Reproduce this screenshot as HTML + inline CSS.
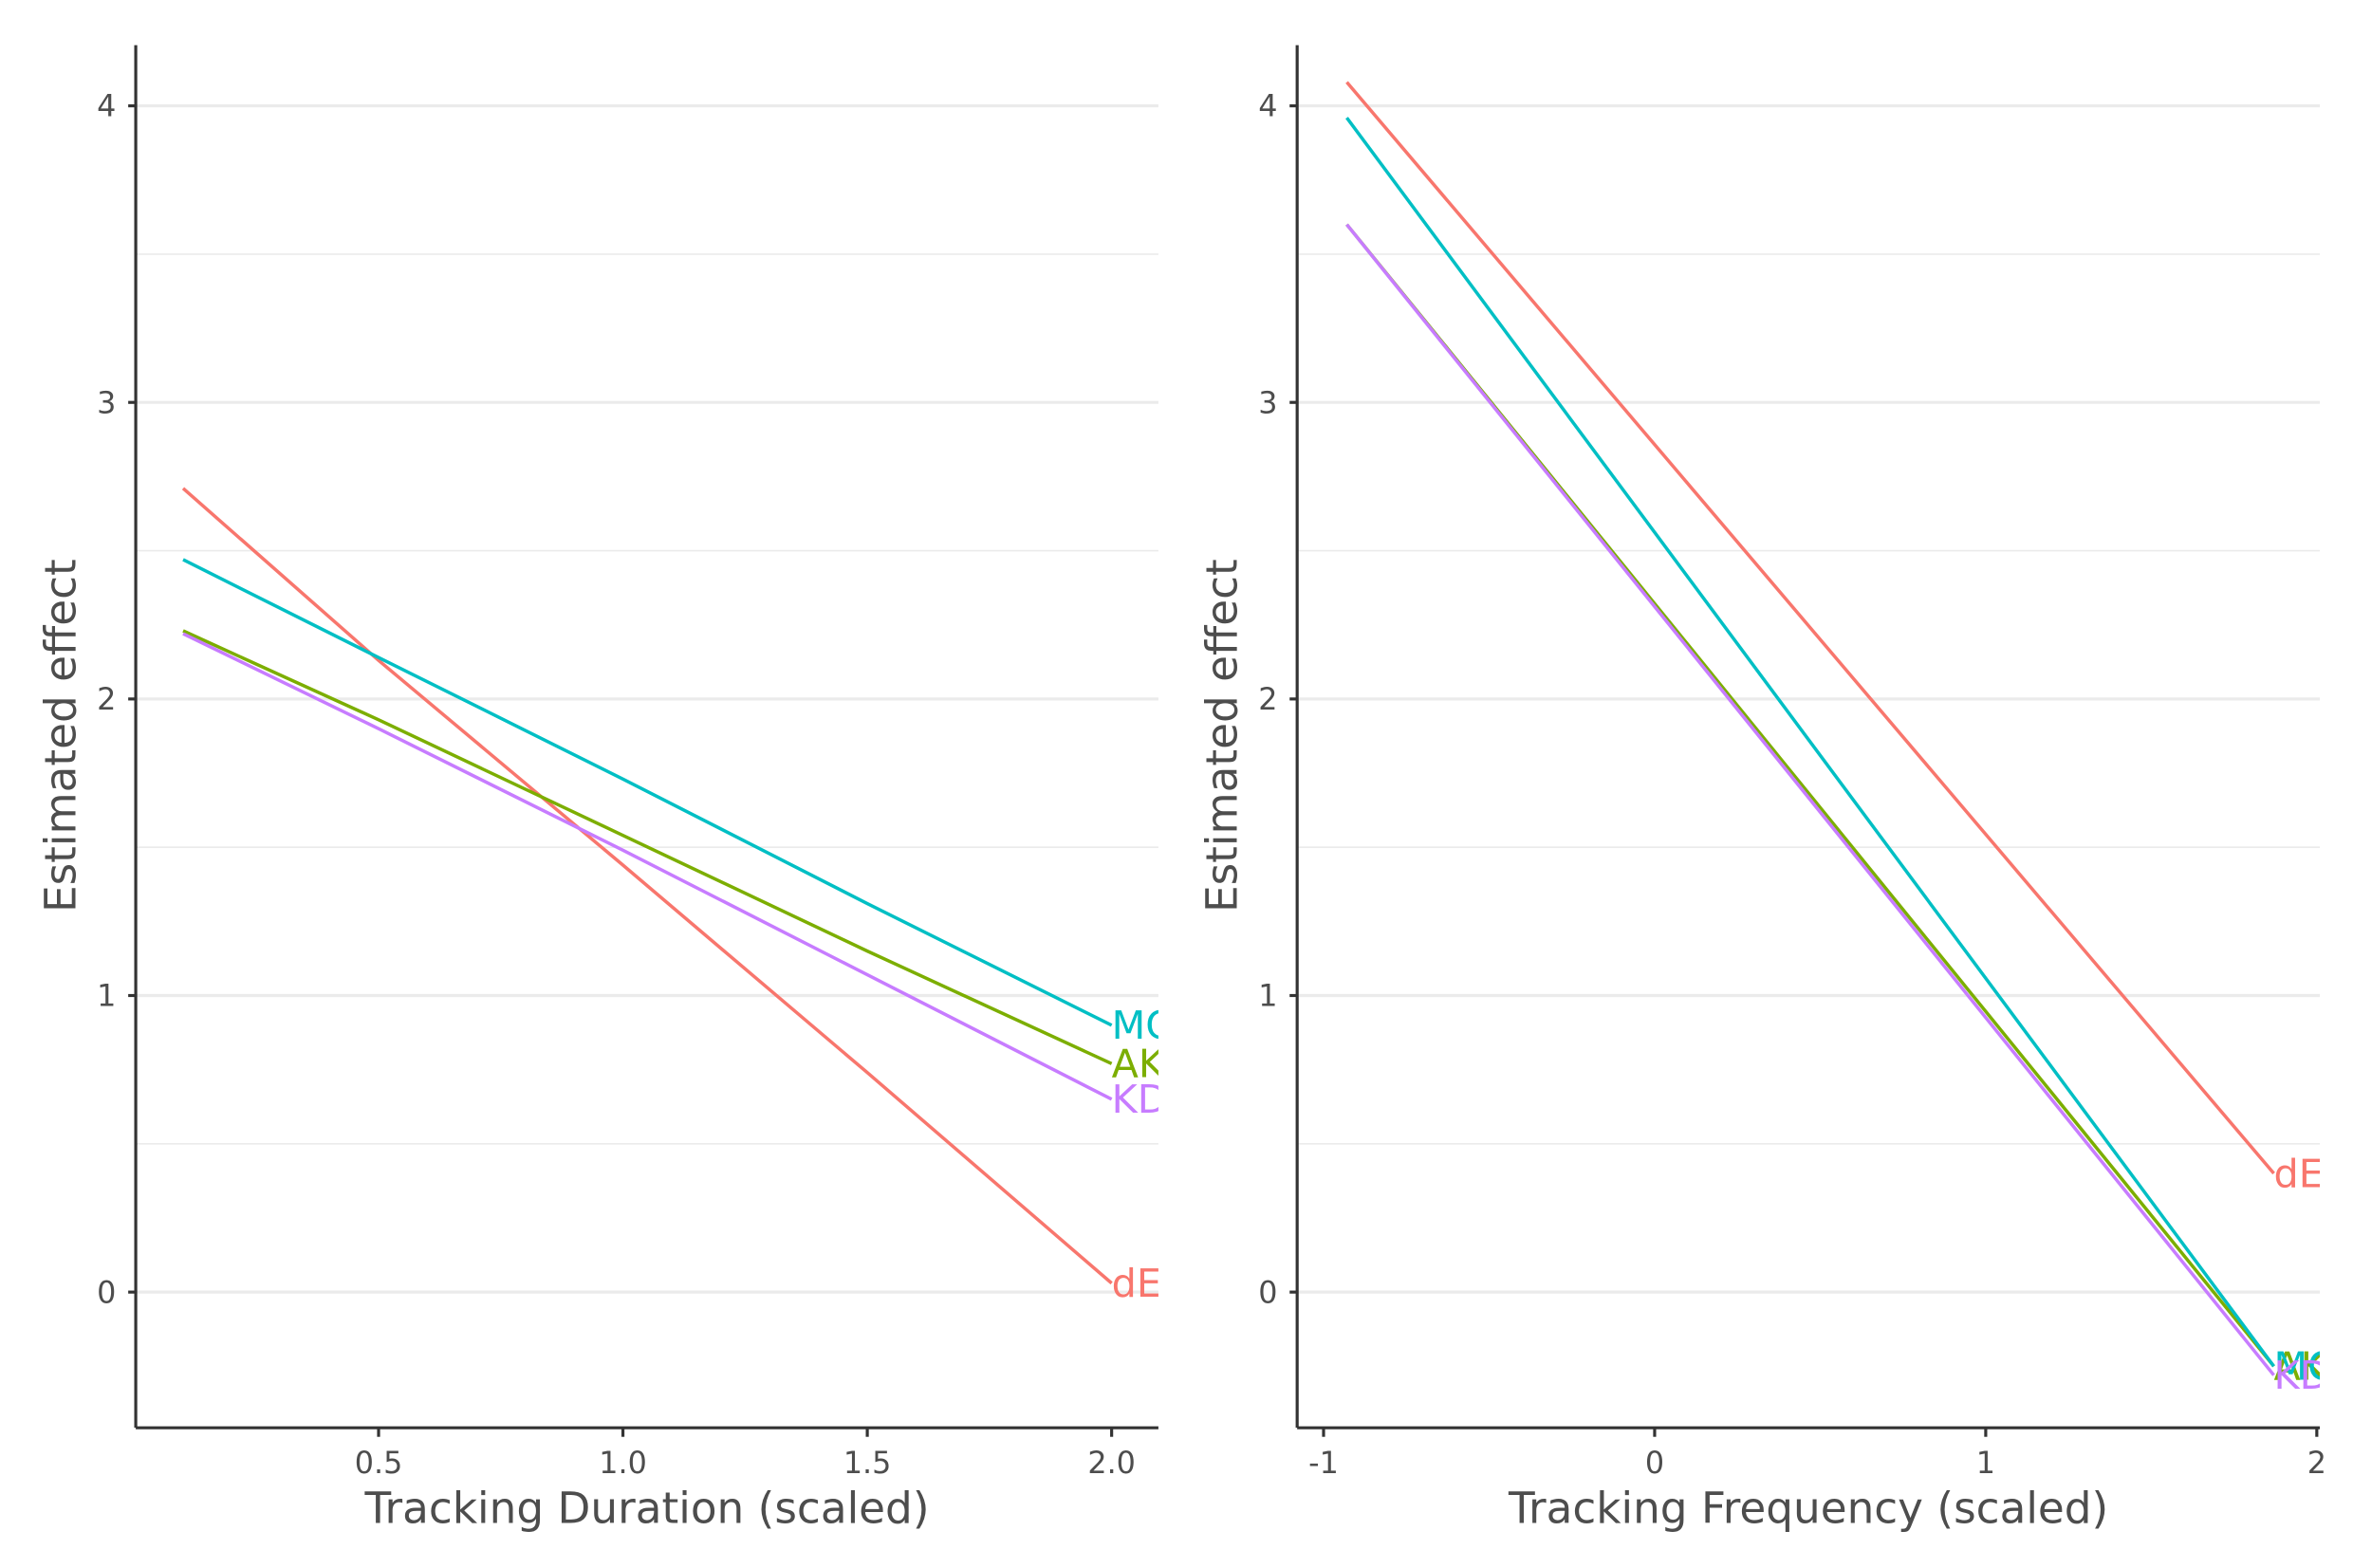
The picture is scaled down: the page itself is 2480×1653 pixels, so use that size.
<!DOCTYPE html>
<html><head><meta charset="utf-8"><style>
html,body{margin:0;padding:0;background:#fff}
svg{display:block;font-family:"DejaVu Sans","Liberation Sans",sans-serif}
</style></head><body>
<svg id="chart" width="2480" height="1653" viewBox="0 0 1560 1040" preserveAspectRatio="none" xmlns="http://www.w3.org/2000/svg">
<defs>
<clipPath id="clipL"><rect x="90" y="20" width="678" height="927"/></clipPath>
<clipPath id="clipR"><rect x="860" y="20" width="678" height="927"/></clipPath>
</defs>
<g id="root"></g>
</svg>
<script>
const seriesNames = ["dE","AK","MC","KD"];
const seriesColors = ["#F8766D","#7CAE00","#00BFC4","#C77CFF"];
const leftX = [0.1, 0.5, 1.0, 1.5, 2.0];
const leftDE = [2.71, 2.13, 1.44, 0.74, 0.03];
const leftAK = [2.23, 1.93, 1.54, 1.15, 0.77];
const leftMC = [2.47, 2.14, 1.73, 1.31, 0.90];
const leftKD = [2.22, 1.90, 1.49, 1.07, 0.65];
const rightX = [-0.93, 1.87];
const rightDE = [4.08, 0.40];
const rightAK = [3.60, -0.25];
const rightMC = [3.96, -0.25];
const rightKD = [3.60, -0.28];
const yTicks = [0, 1, 2, 3, 4];
const yMinor = [0.5, 1.5, 2.5, 3.5];
const leftXTicks = [0.5, 1.0, 1.5, 2.0];
const leftXLabels = ["0.5","1.0","1.5","2.0"];
const rightXTicks = [-1, 0, 1, 2];
const rightXLabels = ["-1","0","1","2"];

const NS = "http://www.w3.org/2000/svg";
const root = document.getElementById("root");
function mk(tag, attrs, parent, text){
  const e = document.createElementNS(NS, tag);
  for (const k in attrs) e.setAttribute(k, attrs[k]);
  if (text !== undefined) e.textContent = text;
  (parent||root).appendChild(e);
  return e;
}
const yScale = v => 857 - v * 196.7;
const panels = [
  {x0:90, x1:768, sx: v => 89 + v*324, xs:leftX, ys:[leftDE,leftAK,leftMC,leftKD], ticks:leftXTicks, labels:leftXLabels, title:"Tracking Duration (scaled)", clip:"clipL", name:"left-panel"},
  {x0:860, x1:1538, sx: v => 1097 + v*219.5, xs:rightX, ys:[rightDE,rightAK,rightMC,rightKD], ticks:rightXTicks, labels:rightXLabels, title:"Tracking Frequency (scaled)", clip:"clipR", name:"right-panel"}
];
panels.forEach(p => {
  const g = mk("g", {});
  
  
  yMinor.forEach(v => {
    const l = mk("line", {x1:p.x0, x2:p.x1, y1:yScale(v), y2:yScale(v), stroke:"#ebebeb", "stroke-width":1}, g);
    
    
  });
  yTicks.forEach(v => {
    const l = mk("line", {x1:p.x0, x2:p.x1, y1:yScale(v), y2:yScale(v), stroke:"#ebebeb", "stroke-width":2}, g);
    
    
    const t = mk("line", {x1:p.x0-5, x2:p.x0, y1:yScale(v), y2:yScale(v), stroke:"#333", "stroke-width":2}, g);
    
    
    const tl = mk("text", {x:p.x0-13, y:yScale(v)+7, "text-anchor":"end", "font-size":20, fill:"#4d4d4d"}, g, String(v));
    
    
  });
  const sg = mk("g", {"clip-path":"url(#"+p.clip+")"}, g);
  p.ys.forEach((ys, i) => {
    const pts = ys.map((v, j) => p.sx(p.xs[j]).toFixed(1)+","+yScale(v).toFixed(1)).join(" ");
    const pl = mk("polyline", {points:pts, fill:"none", stroke:seriesColors[i], "stroke-width":2.2}, sg);
    
    
    const n = ys.length - 1;
    const lb = mk("text", {x:p.sx(p.xs[n]), y:yScale(ys[n])+9, "font-size":26, fill:seriesColors[i]}, sg, seriesNames[i]);
    
    
  });
  const ya = mk("line", {x1:p.x0, x2:p.x0, y1:30, y2:947, stroke:"#333", "stroke-width":2}, g);
  
  
  const xa = mk("line", {x1:p.x0, x2:p.x1, y1:947, y2:947, stroke:"#333", "stroke-width":2}, g);
  
  
  p.ticks.forEach((v, i) => {
    const x = p.sx(v);
    const t = mk("line", {x1:x, x2:x, y1:947, y2:953, stroke:"#333", "stroke-width":2}, g);
    
    
    const tl = mk("text", {x:x, y:977, "text-anchor":"middle", "font-size":20, fill:"#4d4d4d"}, g, p.labels[i]);
    
    
  });
  const xt = mk("text", {x:(p.x0+p.x1)/2, y:1010, "text-anchor":"middle", "font-size":28.5, fill:"#4d4d4d"}, g, p.title);
  
  
  const yt = mk("text", {x:0, y:0, "text-anchor":"middle", "font-size":28.5, fill:"#4d4d4d", transform:"translate("+(p.x0-40)+",488) rotate(-90)"}, g, "Estimated effect");
  
  
});
</script>
</body></html>
